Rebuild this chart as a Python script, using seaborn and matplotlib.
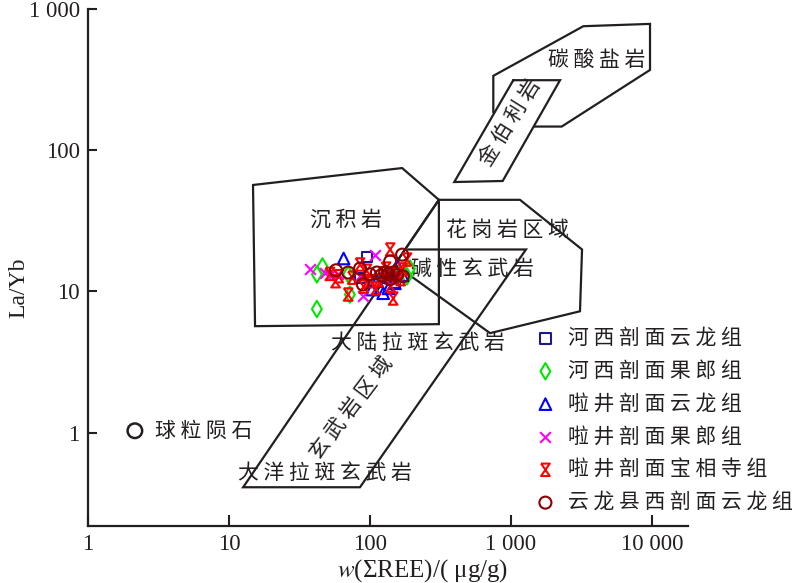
import numpy as np
import pandas as pd
import matplotlib
matplotlib.use("Agg")
import matplotlib.pyplot as plt
import seaborn as sns
from matplotlib.path import Path

sns.set_style("white")
plt.rcParams["font.family"] = ["Noto Sans CJK SC", "DejaVu Sans"]
plt.rcParams["mathtext.fontset"] = "stix"
plt.rcParams["axes.unicode_minus"] = False

# ---------------- data ----------------
x_ticks = [1, 10, 100, 1000, 10000]
x_tick_labels = ["1", "10", "100", "1 000", "10 000"]
y_ticks = [1, 10, 100, 1000]
y_tick_labels = ["1", "10", "100", "1 000"]

# field boundaries (ΣREE, La/Yb)
sed_x = [14.8, 169, 308, 308, 15.3, 14.8]
sed_y = [56.7, 74.7, 44.5, 5.86, 5.67, 56.7]

granite_x = [308, 1158, 3190, 3085, 710, 150]
granite_y = [44.5, 44.5, 19.8, 7.23, 5.06, 15.5]

basalt_x = [308, 12.6, 84.9, 1277, 186]
basalt_y = [44.5, 0.410, 0.410, 19.8, 19.8]

kimb_x = [1038, 2227, 873, 396, 1038]
kimb_y = [313, 313, 60.5, 59.5, 313]

carb_x = [749, 749, 3258, 9680, 9680, 2289, 1456]
carb_y = [185, 336, 755, 784, 370, 147, 147]

field_labels = ["碳 酸 盐 岩", "金 伯 利 岩", "沉 积 岩", "花 岗 岩 区 域", "碱 性 玄 武 岩",
                "大 陆 拉 斑 玄 武 岩", "玄 武 岩 区 域", "大 洋 拉 斑 玄 武 岩", "球 粒 陨 石"]
field_label_x = [4074, 984, 67.6, 937, 537, 219, 74.5, 48, 2.99]
field_label_y = [437, 157, 32.1, 27.3, 14.5, 4.3, 1.48, 0.514, 1.03]
field_label_rot = [0, 58, 0, 0, 0, 0, 53, 0, 0]

chondrite_x = [2.15]
chondrite_y = [1.03]

group_names = ["河 西 剖 面 云 龙 组", "河 西 剖 面 果 郎 组", "啦 井 剖 面 云 龙 组",
               "啦 井 剖 面 果 郎 组", "啦 井 剖 面 宝 相 寺 组", "云 龙 县 西 剖 面 云 龙 组"]

hx_yl_x = [95, 85, 130, 150]
hx_yl_y = [17.6, 12.4, 12.5, 11.5]

hx_gl_x = [42, 46, 70, 72, 42, 192, 183, 160, 110]
hx_gl_y = [13.2, 15.0, 13.2, 9.5, 7.5, 14.5, 12.8, 13.0, 12.0]

lj_yl_x = [65, 103, 124, 150, 158, 112, 140, 170, 135]
lj_yl_y = [17.1, 10.3, 9.7, 11.4, 15.0, 11.8, 12.5, 13.0, 10.5]

lj_gl_x = [37.5, 48, 59, 108, 85, 89, 52]
lj_gl_y = [14.3, 13.4, 13.2, 18.2, 12.8, 9.2, 13.0]

lj_bx_x = [57, 70, 85, 139, 146, 183, 100, 124, 155, 165, 75, 95, 115, 130, 60, 110, 170, 140, 52, 90]
lj_bx_y = [11.8, 9.5, 15.5, 19.8, 8.9, 16.8, 11.8, 13.4, 13.2, 12.2, 12.5, 14.0, 12.0, 14.5, 12.8, 10.5, 14.3, 11.0, 13.3, 10.8]

yl_w_x = [57.4, 70, 85, 89, 139, 169, 112, 128, 146, 171, 139, 120, 100, 155, 135]
yl_w_y = [14.1, 13.6, 14.5, 11.2, 16.3, 18.2, 13.6, 13.6, 13.6, 12.8, 12.2, 13.0, 13.2, 13.0, 13.3]

group_colors = ["#1a1a8c", "#00e600", "#0000ff", "#ff00ff", "#ff0000", "#8b0000"]

# ---------------- figure ----------------
fig = plt.figure(figsize=(8.0, 5.83), dpi=100)
ax = fig.add_axes([0.11, 0.0978, 0.75, 0.8868])
ax.set_xscale("log")
ax.set_yscale("log")
ax.set_xlim(1, 18000)
ax.set_ylim(0.218, 1000)

line_kw = dict(color="#231f20", lw=1.6, zorder=2, solid_joinstyle="miter")
for xs, ys in [(sed_x, sed_y), (granite_x + granite_x[:1], granite_y + granite_y[:1]),
               (basalt_x, basalt_y), (kimb_x, kimb_y), (carb_x, carb_y)]:
    ax.plot(xs, ys, **line_kw)

cjk = ["Noto Sans CJK SC", "DejaVu Sans"]
for t, x, y, r in zip(field_labels, field_label_x, field_label_y, field_label_rot):
    ha = "left" if t.startswith("球") else "center"
    ax.text(x, y, t, fontsize=15, family=cjk, fontweight="light", ha=ha, va="center",
            rotation=r, color="#231f20", zorder=1.5)

sns.scatterplot(x=chondrite_x, y=chondrite_y, marker="o", s=110, color="#231f20",
                facecolor="none", edgecolor="#231f20", linewidth=1.8, ax=ax, zorder=3)

hourglass = Path([(-0.7, 1), (0.7, 1), (-0.7, -1), (0.7, -1), (-0.7, 1)],
                 [Path.MOVETO, Path.LINETO, Path.LINETO, Path.LINETO, Path.LINETO])

groups = [
    (hx_yl_x, hx_yl_y, "s", 55, True),
    (hx_gl_x, hx_gl_y, "d", 70, True),
    (lj_yl_x, lj_yl_y, "^", 70, True),
    (lj_gl_x, lj_gl_y, "x", 60, False),
    (lj_bx_x, lj_bx_y, hourglass, 80, True),
    (yl_w_x, yl_w_y, "o", 75, True),
]
for (xs, ys, m, s, hollow), name, c in zip(groups, group_names, group_colors):
    df = pd.DataFrame({"ree": xs, "layb": ys})
    if hollow:
        sns.scatterplot(data=df, x="ree", y="layb", marker=m, s=s, color=c,
                        facecolor="none", edgecolor=c, linewidth=1.5, ax=ax,
                        label=name, zorder=3)
    else:
        sns.scatterplot(data=df, x="ree", y="layb", marker=m, s=s, color=c,
                        linewidth=1.5, ax=ax, label=name, zorder=3)

handles, labels = ax.get_legend_handles_labels()
leg = ax.legend(handles, labels, loc="upper left", bbox_to_anchor=(0.745, 0.385),
                frameon=False, borderaxespad=0, borderpad=0, handlelength=1.0,
                handletextpad=0.6, labelspacing=0.52,
                prop={"family": cjk, "size": 15, "weight": "light"})
for txt in leg.get_texts():
    txt.set_color("#231f20")

# axes styling
for side in ["top", "right"]:
    ax.spines[side].set_visible(False)
for side in ["left", "bottom"]:
    ax.spines[side].set_color("#231f20")
    ax.spines[side].set_linewidth(1.6)
ax.minorticks_off()
ax.set_xticks(x_ticks, x_tick_labels, fontfamily="Liberation Serif", fontsize=16.5)
ax.set_yticks(y_ticks, y_tick_labels, fontfamily="Liberation Serif", fontsize=16.5)
ax.tick_params(axis="both", which="major", direction="in", bottom=True, left=True,
               top=False, right=False, width=1.5, color="#231f20",
               labelcolor="#231f20", pad=6)
ax.tick_params(axis="x", length=8)
ax.tick_params(axis="y", length=6.5)
ax.set_xlabel("$w$(ΣREE)/( μg/g)", fontfamily="Liberation Serif", fontsize=18, color="#231f20")
ax.set_ylabel("La/Yb", fontfamily="Liberation Serif", fontsize=17, color="#231f20")
ax.xaxis.set_label_coords(0.557, -0.06)
ax.yaxis.set_label_coords(-0.098, 0.46)
ax.grid(False)

fig.savefig("out.png", dpi=100)
